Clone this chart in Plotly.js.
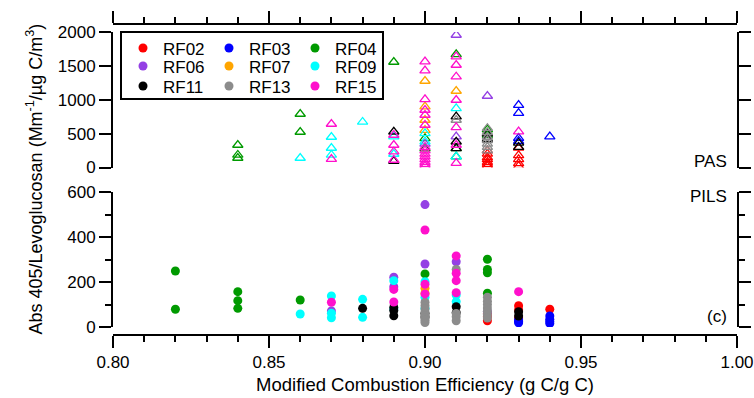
<!DOCTYPE html>
<html>
<head>
<meta charset="utf-8">
<script src="https://cdn.plot.ly/plotly-3.0.1.min.js"></script>
<style>html,body{margin:0;padding:0;background:#fff;}#chart{width:754px;height:398px;}</style>
</head>
<body>
<div id="chart"></div>
<script>
// ---- DATA ----
const flights = ['RF02','RF03','RF04','RF06','RF07','RF09','RF11','RF13','RF15'];

// PAS (top panel, open triangles)
const RF02_pas_x = [0.92,0.92,0.92,0.92,0.92,0.92,0.92,0.93,0.93,0.93,0.93,0.93];
const RF02_pas_y = [250,200,150,120,80,50,20,290,180,120,60,20];
const RF03_pas_x = [0.93,0.93,0.93,0.93,0.94];
const RF03_pas_y = [922,804,435,390,455];
const RF04_pas_x = [0.82,0.84,0.84,0.84,0.86,0.86,0.89,0.90,0.90,0.91,0.91,0.91,0.92,0.92];
const RF04_pas_y = [2150,332,185,140,790,524,1557,430,280,1671,283,160,560,480];
const RF06_pas_x = [0.90,0.91,0.91,0.92];
const RF06_pas_y = [350,1956,455,1055];
const RF07_pas_x = [0.90,0.90,0.90,0.90,0.91];
const RF07_pas_y = [1277,898,701,553,1129];
const RF09_pas_x = [0.86,0.87,0.87,0.87,0.88,0.89,0.89,0.90,0.90,0.91,0.91];
const RF09_pas_y = [140,450,288,185,672,455,199,504,381,874,160];
const RF11_pas_x = [0.88,0.89,0.89,0.91,0.91,0.91,0.92,0.92,0.93,0.93];
const RF11_pas_y = [1040,528,96,750,380,283,500,420,362,300];
const RF13_pas_x = [0.91,0.92,0.92,0.92,0.92,0.92,0.92,0.92];
const RF13_pas_y = [701,580,520,450,400,350,300,250];
const RF15_pas_x = [0.87,0.87,0.89,0.89,0.89,0.89,
  0.90,0.90,0.90,0.90,0.90,0.90,0.90,0.90,0.90,0.90,0.90,0.90,0.90,0.90,
  0.91,0.91,0.91,0.91,0.91,0.91,0.91,0.93];
const RF15_pas_y = [642,125,480,332,233,111,
  1562,1429,1006,849,775,627,300,250,200,160,120,80,50,20,
  1636,1513,1340,996,593,332,66,529];

// PILS (bottom panel, filled circles)
const RF02_pils_x = [0.92,0.92,0.92,0.93,0.93,0.93,0.94];
const RF02_pils_y = [28,46,60,95,76,40,79];
const RF03_pils_x = [0.93,0.93,0.93,0.94,0.94,0.94,0.94];
const RF03_pils_y = [31,19,25,49,34,16,25];
const RF04_pils_x = [0.82,0.82,0.84,0.84,0.84,0.86,0.90,0.92,0.92,0.92,0.92];
const RF04_pils_y = [249,79,157,117,83,120,236,301,256,241,150];
const RF06_pils_x = [0.87,0.89,0.89,0.90,0.90,0.91,0.92];
const RF06_pils_y = [71,221,179,544,280,290,68];
const RF07_pils_x = [0.90,0.90];
const RF07_pils_y = [172,150];
const RF09_pils_x = [0.86,0.87,0.87,0.87,0.88,0.88,0.89,0.89,0.90,0.90,0.90,0.91,0.91];
const RF09_pils_y = [58,138,61,41,123,43,206,80,201,132,83,142,113];
const RF11_pils_x = [0.88,0.89,0.89,0.89,0.90,0.90,0.91,0.91,0.93,0.93];
const RF11_pils_y = [83,87,73,50,60,45,90,64,68,49];
const RF13_pils_x = [0.90,0.90,0.90,0.90,0.90,0.90,0.90,0.90,0.91,0.91,0.91,0.91,
  0.92,0.92,0.92,0.92,0.92,0.92,0.92];
const RF13_pils_y = [110,95,80,65,50,40,30,20,256,60,46,28,132,115,100,85,70,55,40];
const RF15_pils_x = [0.87,0.89,0.89,0.90,0.90,0.90,0.91,0.91,0.91,0.91,0.93];
const RF15_pils_y = [110,167,111,431,190,147,316,239,206,152,157];

const xTickVals = [0.80,0.85,0.90,0.95,1.00];
const pasTicks = [0,500,1000,1500,2000];
const pilsTicks = [0,200,400,600];

// ---- STYLE ----
const colors = {RF02:'#ff0000',RF03:'#0000ff',RF04:'#009a00',RF06:'#9440e4',RF07:'#ffa500',
  RF09:'#00ffff',RF11:'#000000',RF13:'#8c8c8c',RF15:'#ff10cc'};
const legendRow = {RF02:'legend',RF03:'legend',RF04:'legend',RF06:'legend2',RF07:'legend2',RF09:'legend2',
  RF11:'legend3',RF13:'legend3',RF15:'legend3'};
const FONT = 'Liberation Sans, Arial, Helvetica, sans-serif';

const dataSets = {
  RF02:[RF02_pas_x,RF02_pas_y,RF02_pils_x,RF02_pils_y],
  RF03:[RF03_pas_x,RF03_pas_y,RF03_pils_x,RF03_pils_y],
  RF04:[RF04_pas_x,RF04_pas_y,RF04_pils_x,RF04_pils_y],
  RF06:[RF06_pas_x,RF06_pas_y,RF06_pils_x,RF06_pils_y],
  RF07:[RF07_pas_x,RF07_pas_y,RF07_pils_x,RF07_pils_y],
  RF09:[RF09_pas_x,RF09_pas_y,RF09_pils_x,RF09_pils_y],
  RF11:[RF11_pas_x,RF11_pas_y,RF11_pils_x,RF11_pils_y],
  RF13:[RF13_pas_x,RF13_pas_y,RF13_pils_x,RF13_pils_y],
  RF15:[RF15_pas_x,RF15_pas_y,RF15_pils_x,RF15_pils_y]
};

const traces = [];
flights.forEach(f => {
  const d = dataSets[f];
  traces.push({type:'scatter',mode:'markers',x:d[0],y:d[1],xaxis:'x2',yaxis:'y',
    name:f,legendgroup:f,showlegend:false,
    marker:{symbol:'triangle-up-open',size:9,color:colors[f],line:{width:1.3,color:colors[f]}}});
});
flights.forEach(f => {
  const d = dataSets[f];
  traces.push({type:'scatter',mode:'markers',x:d[2],y:d[3],xaxis:'x',yaxis:'y2',
    name:f,legendgroup:f,legend:legendRow[f],showlegend:true,
    marker:{symbol:'circle',size:9,color:colors[f]}});
});

// geometry: plot area x 113..737, y 24..335
const H = 311;
const py = p => (335 - p) / H;   // pixel y -> paper
const pxp = p => (p - 113) / 624; // pixel x -> paper

const TICKFONT = {family:FONT,size:17,color:'#000'};
const axCommon = {showline:true,linewidth:2,linecolor:'#000',ticks:'outside',tickwidth:2,tickcolor:'#000',
  showgrid:false,zeroline:false,tickfont:TICKFONT};
const xMinor = {dtick:0.01,tick0:0.8,ticklen:6,tickwidth:2,tickcolor:'#000',ticks:'outside'};
const yMinor = {dtick:100,tick0:0,ticklen:6,tickwidth:2,tickcolor:'#000',ticks:'outside'};

const legCommon = {orientation:'h',entrywidth:41,entrywidthmode:'pixels',bgcolor:'rgba(0,0,0,0)',
  borderwidth:0,font:{family:FONT,size:17,color:'#000'},xanchor:'left',yanchor:'top',x:pxp(123),
  itemclick:false,itemdoubleclick:false};

const layout = {
  width:754,height:398,
  margin:{l:113,r:17,t:24,b:63,pad:0},
  paper_bgcolor:'#fff',plot_bgcolor:'rgba(0,0,0,0)',
  font:{family:FONT,size:17,color:'#000'},
  xaxis:Object.assign({},axCommon,{range:[0.8,1.0],domain:[0,1],anchor:'free',position:0,
    tickvals:xTickVals,tickformat:'.2f',ticklen:12,minor:xMinor,
    title:{text:'Modified Combustion Efficiency (g C/g C)',font:{family:FONT,size:18.5,color:'#000'},standoff:6}}),
  xaxis2:Object.assign({},axCommon,{range:[0.8,1.0],domain:[0,1],side:'top',anchor:'free',position:1,
    tickvals:xTickVals,showticklabels:false,ticklen:12,minor:xMinor}),
  yaxis:Object.assign({},axCommon,{domain:[py(167.5),py(32)],range:[0,2000],anchor:'x2',mirror:'ticks',
    tickvals:pasTicks,ticklen:12}),
  yaxis2:Object.assign({},axCommon,{domain:[py(327),py(192)],range:[0,600],anchor:'x',mirror:'ticks',
    tickvals:pilsTicks,ticklen:12,minor:yMinor}),
  legend:Object.assign({},legCommon,{y:py(30.5)}),
  legend2:Object.assign({},legCommon,{y:py(48.5)}),
  legend3:Object.assign({},legCommon,{y:py(68.5)}),
  shapes:[{type:'rect',xref:'paper',yref:'paper',x0:pxp(121),x1:pxp(383),y0:py(99),y1:py(32),
    fillcolor:'#fff',line:{color:'#000',width:2},layer:'above'}],
  annotations:[
    {text:'Abs 405/Levoglucosan (Mm<sup>-1</sup>/µg C/m<sup>3</sup>)',xref:'paper',yref:'paper',
     x:pxp(35),y:0.5,xanchor:'center',yanchor:'middle',textangle:-90,showarrow:false,
     font:{family:FONT,size:18,color:'#000'}},
    {text:'PAS',xref:'paper',yref:'paper',x:pxp(729),y:py(161),xanchor:'right',yanchor:'middle',
     showarrow:false,font:{family:FONT,size:17,color:'#000'}},
    {text:'PILS',xref:'paper',yref:'paper',x:pxp(729),y:py(196),xanchor:'right',yanchor:'middle',
     showarrow:false,font:{family:FONT,size:17,color:'#000'}},
    {text:'(c)',xref:'paper',yref:'paper',x:pxp(729),y:py(316),xanchor:'right',yanchor:'middle',
     showarrow:false,font:{family:FONT,size:17,color:'#000'}}
  ]
};

Plotly.newPlot('chart',traces,layout,{displayModeBar:false,staticPlot:true});
</script>
</body>
</html>
